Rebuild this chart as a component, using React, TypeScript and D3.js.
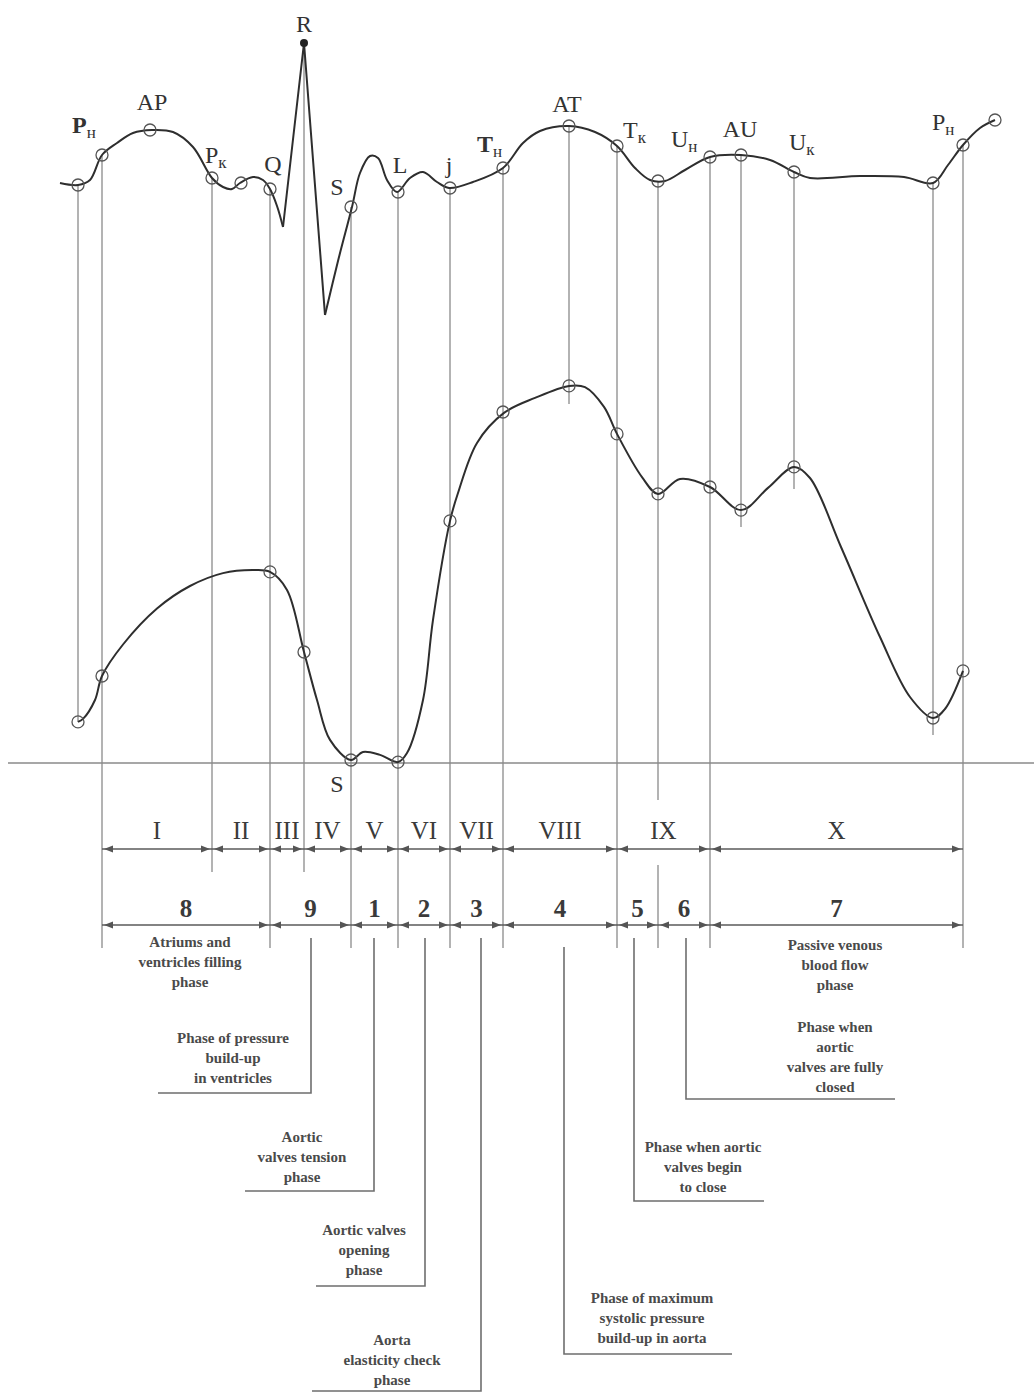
import React, { useEffect, useRef } from 'react';
import * as d3 from 'd3';

const W = 1034;
const H = 1393;

// time in ms from the start of the trace
const markTimes = [16, 40, 88, 150, 179, 208, 242, 289, 336, 388, 441, 507, 555, 596, 648, 679, 732, 871, 901, 933];
// ECG amplitude (mV) at the marked points
const ecgAtMarks = [0.0, 0.3, 0.55, 0.07, 0.02, -0.04, 1.42, -0.22, -0.07, -0.03, 0.17, 0.59, 0.39, 0.04, 0.28, 0.3, 0.13, 0.02, 0.4, 0.65];

// ECG trace: P wave up to the Q trough, QRS spike, rest of the cycle
const ecgWaveP: [number, number][] = [
  [-2, 0.02], [16, 0.0], [28, 0.05], [40, 0.3], [55, 0.42], [71, 0.52], [90, 0.55], [111, 0.53],
  [131, 0.38], [150, 0.07], [161, -0.02], [170, -0.04], [178, 0.02], [191, 0.08], [201, 0.05],
  [208, -0.04], [215, -0.21], [221, -0.42],
];
const ecgQRS: [number, number][] = [[221, -0.42], [242, 1.42], [263, -1.3]];
const ecgWaveT: [number, number][] = [
  [263, -1.3], [276, -0.76], [290, -0.22], [298, 0.12], [308, 0.29], [316, 0.27], [325, 0.05],
  [335, -0.07], [348, 0.07], [361, 0.13], [375, 0.03], [387, -0.03], [411, 0.03], [441, 0.17],
  [461, 0.42], [478, 0.54], [507, 0.59], [533, 0.53], [555, 0.39], [573, 0.17], [588, 0.05],
  [603, 0.04], [623, 0.15], [648, 0.28], [679, 0.3], [708, 0.25], [732, 0.13], [748, 0.07],
  [798, 0.09], [842, 0.08], [871, 0.02], [886, 0.2], [901, 0.4], [918, 0.57], [933, 0.65],
];

// aortic pressure curve
const pressureMarkTimes = [16, 40, 208, 242, 289, 336, 388, 441, 507, 555, 596, 648, 679, 732, 871, 901];
const pressureAtMarks = [13.7, 29.0, 63.7, 37.0, 1.0, 0.3, 80.7, 117.0, 125.7, 109.7, 89.7, 92.0, 84.3, 98.7, 15.0, 30.7];
const pressureCurve: [number, number][] = [
  [16, 13.7], [21, 14.7], [33, 21], [40, 29.0], [61, 39.5], [95, 51.5], [128, 59], [161, 63.3],
  [191, 64.3], [208, 63.7], [225, 57.7], [242, 37], [255, 21], [268, 7.7], [289, 1.0], [301, 3.7],
  [318, 2.7], [336, 0.3], [345, 3.3], [361, 21], [371, 47.7], [388, 80.7], [396, 90], [415, 106.7],
  [442, 116.7], [473, 121.7], [507, 125.7], [523, 125.3], [542, 118.7], [555, 109.7], [580, 95.3],
  [596, 89.7], [618, 94.7], [648, 92], [679, 84.3], [706, 91.7], [732, 98.7], [748, 95], [779, 72],
  [818, 42], [848, 22], [871, 15], [883, 18], [901, 30.7],
];

// point names on the ECG
const ecgLabels = [
  { main: 'P', sub: 'н', t: 16, bold: true },
  { main: 'AP', sub: '', t: 88, bold: false },
  { main: 'P', sub: 'к', t: 150, bold: false },
  { main: 'Q', sub: '', t: 208, bold: false },
  { main: 'R', sub: '', t: 242, bold: false },
  { main: 'S', sub: '', t: 289, bold: false },
  { main: 'L', sub: '', t: 336, bold: false },
  { main: 'j', sub: '', t: 388, bold: false },
  { main: 'T', sub: 'н', t: 441, bold: true },
  { main: 'AT', sub: '', t: 507, bold: false },
  { main: 'T', sub: 'к', t: 555, bold: false },
  { main: 'U', sub: 'н', t: 648, bold: false },
  { main: 'AU', sub: '', t: 679, bold: false },
  { main: 'U', sub: 'к', t: 732, bold: false },
  { main: 'P', sub: 'н', t: 901, bold: false },
];

const romanPhases = ['I', 'II', 'III', 'IV', 'V', 'VI', 'VII', 'VIII', 'IX', 'X'];
const romanBounds = [40, 150, 208, 242, 289, 336, 388, 441, 555, 648, 901];
const numberPhases = ['8', '9', '1', '2', '3', '4', '5', '6', '7'];
const numberBounds = [40, 208, 289, 336, 388, 441, 555, 596, 648, 901];

const phaseNotes = [
  { key: '8', lines: ['Atriums and', 'ventricles filling', 'phase'] },
  { key: '9', lines: ['Phase of pressure', 'build-up', 'in ventricles'] },
  { key: '1', lines: ['Aortic', 'valves tension', 'phase'] },
  { key: '2', lines: ['Aortic valves', 'opening', 'phase'] },
  { key: '3', lines: ['Aorta', 'elasticity check', 'phase'] },
  { key: '4', lines: ['Phase of maximum', 'systolic pressure', 'build-up in aorta'] },
  { key: '5', lines: ['Phase when aortic', 'valves begin', 'to close'] },
  { key: '6', lines: ['Phase when', 'aortic', 'valves are fully', 'closed'] },
  { key: '7', lines: ['Passive venous', 'blood flow', 'phase'] },
];

export default function App() {
  const ref = useRef<SVGSVGElement>(null);

  useEffect(() => {
    const svg = d3.select(ref.current);
    svg.selectAll('*').remove();

    const x = d3.scaleLinear().domain([0, 933]).range([62, 995]);
    const yEcg = d3.scaleLinear().domain([0, 1.42]).range([185, 43]);
    const yP = d3.scaleLinear().domain([0, 125]).range([763, 388]);

    const serif = '"Liberation Serif", "Times New Roman", serif';
    const guide = '#8a8a8a';
    const ink = '#2e2e2e';
    const row1Y = 849;
    const row2Y = 925;
    const rowEnd = 948;

    // where each vertical guide stops (pixel y, pressure tick length, or none)
    const guideEnds: (number | { tick: number } | null)[] = [
      { tick: 0 }, rowEnd, null, 872, null, rowEnd, 872, rowEnd, rowEnd, rowEnd, rowEnd,
      { tick: 18 }, rowEnd, 800, rowEnd, { tick: 17 }, { tick: 22 }, { tick: 17 }, rowEnd, null,
    ];

    const gGuides = svg.append('g').attr('stroke', guide).attr('stroke-width', 1.3);
    markTimes.forEach((t, i) => {
      const end = guideEnds[i];
      if (end === null) return;
      let y2: number;
      if (typeof end === 'number') y2 = end;
      else y2 = yP(pressureAtMarks[pressureMarkTimes.indexOf(t)]) + end.tick;
      gGuides.append('line')
        .attr('x1', x(t)).attr('x2', x(t))
        .attr('y1', yEcg(ecgAtMarks[i])).attr('y2', y2);
    });
    // IX splits around the roman row
    gGuides.append('line').attr('x1', x(596)).attr('x2', x(596)).attr('y1', 865).attr('y2', rowEnd);

    // zero pressure line
    svg.append('line')
      .attr('x1', 8).attr('x2', W)
      .attr('y1', yP(0)).attr('y2', yP(0))
      .attr('stroke', guide).attr('stroke-width', 1.3);

    // curves
    const smooth = d3.line<[number, number]>()
      .x(d => x(d[0])).y(d => yEcg(d[1]))
      .curve(d3.curveCatmullRom.alpha(0.5));
    const straight = d3.line<[number, number]>()
      .x(d => x(d[0])).y(d => yEcg(d[1]));
    const pLine = d3.line<[number, number]>()
      .x(d => x(d[0])).y(d => yP(d[1]))
      .curve(d3.curveCatmullRom.alpha(0.5));

    const gCurves = svg.append('g').attr('fill', 'none').attr('stroke', ink).attr('stroke-width', 2)
      .attr('stroke-linejoin', 'round');
    gCurves.append('path').attr('d', smooth(ecgWaveP));
    gCurves.append('path').attr('d', straight(ecgQRS));
    gCurves.append('path').attr('d', smooth(ecgWaveT));
    gCurves.append('path').attr('d', pLine(pressureCurve));

    // marks
    const gMarks = svg.append('g').attr('fill', 'none').attr('stroke', '#555').attr('stroke-width', 1.3);
    markTimes.forEach((t, i) => {
      if (t === 242) {
        svg.append('circle').attr('cx', x(t)).attr('cy', yEcg(ecgAtMarks[i])).attr('r', 4).attr('fill', '#222');
      } else {
        gMarks.append('circle').attr('cx', x(t)).attr('cy', yEcg(ecgAtMarks[i])).attr('r', 6);
      }
    });
    pressureMarkTimes.forEach((t, i) => {
      gMarks.append('circle').attr('cx', x(t)).attr('cy', yP(pressureAtMarks[i])).attr('r', 6);
    });

    // ECG point names
    const labelLayout = [
      { dx: -6, y: 133, a: 'start' }, { dx: 2, y: 110, a: 'middle' }, { dx: -7, y: 163, a: 'start' },
      { dx: 3, y: 172, a: 'middle' }, { dx: 0, y: 32, a: 'middle' }, { dx: -14, y: 195, a: 'middle' },
      { dx: 2, y: 173, a: 'middle' }, { dx: -1, y: 173, a: 'middle' }, { dx: -26, y: 152, a: 'start' },
      { dx: -2, y: 112, a: 'middle' }, { dx: 6, y: 138, a: 'start' }, { dx: -39, y: 147, a: 'start' },
      { dx: -1, y: 137, a: 'middle' }, { dx: -5, y: 150, a: 'start' }, { dx: -31, y: 130, a: 'start' },
    ];
    ecgLabels.forEach((l, i) => {
      const lay = labelLayout[i];
      const txt = svg.append('text')
        .attr('x', x(l.t) + lay.dx).attr('y', lay.y)
        .attr('text-anchor', lay.a)
        .attr('font-family', serif).attr('font-size', 24)
        .attr('fill', '#333');
      txt.append('tspan').attr('font-weight', l.bold ? 'bold' : 'normal').text(l.main);
      if (l.sub) {
        txt.append('tspan').attr('font-size', 17).attr('dy', 5).text(l.sub);
      }
    });

    // S under the zero line
    svg.append('text')
      .attr('x', x(289) - 14).attr('y', 792)
      .attr('text-anchor', 'middle')
      .attr('font-family', serif).attr('font-size', 24).attr('fill', '#333')
      .text('S');

    // dimension rows
    const dimRow = (bounds: number[], labels: string[], y: number, labelY: number, weight: string) => {
      const g = svg.append('g');
      g.append('line')
        .attr('x1', x(bounds[0])).attr('x2', x(bounds[bounds.length - 1]))
        .attr('y1', y).attr('y2', y)
        .attr('stroke', '#5a5a5a').attr('stroke-width', 1.6);
      labels.forEach((lab, i) => {
        const x0 = x(bounds[i]);
        const x1 = x(bounds[i + 1]);
        g.append('path')
          .attr('d', `M${x0 + 2},${y}L${x0 + 11},${y - 3.5}L${x0 + 11},${y + 3.5}Z`)
          .attr('fill', '#555');
        g.append('path')
          .attr('d', `M${x1 - 2},${y}L${x1 - 11},${y - 3.5}L${x1 - 11},${y + 3.5}Z`)
          .attr('fill', '#555');
        g.append('text')
          .attr('x', (x0 + x1) / 2).attr('y', labelY)
          .attr('text-anchor', 'middle')
          .attr('font-family', serif).attr('font-size', 25).attr('font-weight', weight)
          .attr('fill', '#3a3a3a')
          .text(lab);
      });
    };
    dimRow(romanBounds, romanPhases, row1Y, 839, 'normal');
    dimRow(numberBounds, numberPhases, row2Y, 917, 'bold');

    // phase descriptions with leaders
    const noteLayout: Record<string, { cx: number; y: number; leader?: number; bottom?: number; other?: number; top?: number }> = {
      '8': { cx: 190, y: 947 },
      '9': { cx: 233, y: 1043, leader: 311, top: 938, bottom: 1093, other: 158 },
      '1': { cx: 302, y: 1142, leader: 374, top: 938, bottom: 1191, other: 245 },
      '2': { cx: 364, y: 1235, leader: 425, top: 938, bottom: 1286, other: 316 },
      '3': { cx: 392, y: 1345, leader: 481, top: 938, bottom: 1391, other: 312 },
      '4': { cx: 652, y: 1303, leader: 564, top: 947, bottom: 1354, other: 732 },
      '5': { cx: 703, y: 1152, leader: 634, top: 938, bottom: 1201, other: 764 },
      '6': { cx: 835, y: 1032, leader: 686, top: 938, bottom: 1099, other: 895 },
      '7': { cx: 835, y: 950 },
    };
    phaseNotes.forEach(n => {
      const lay = noteLayout[n.key];
      const txt = svg.append('text')
        .attr('text-anchor', 'middle')
        .attr('font-family', serif).attr('font-size', 15).attr('font-weight', 'bold')
        .attr('fill', '#4a4a4a');
      n.lines.forEach((line, i) => {
        txt.append('tspan').attr('x', lay.cx).attr('y', lay.y + i * 20).text(line);
      });
      if (lay.leader !== undefined) {
        svg.append('path')
          .attr('d', `M${lay.leader},${lay.top}V${lay.bottom}H${lay.other}`)
          .attr('fill', 'none').attr('stroke', '#6e6e6e').attr('stroke-width', 1.6);
      }
    });
  }, []);

  return (
    <svg
      ref={ref}
      width={W}
      height={H}
      style={{ position: 'absolute', left: 0, top: 0, background: '#fff' }}
    />
  );
}
